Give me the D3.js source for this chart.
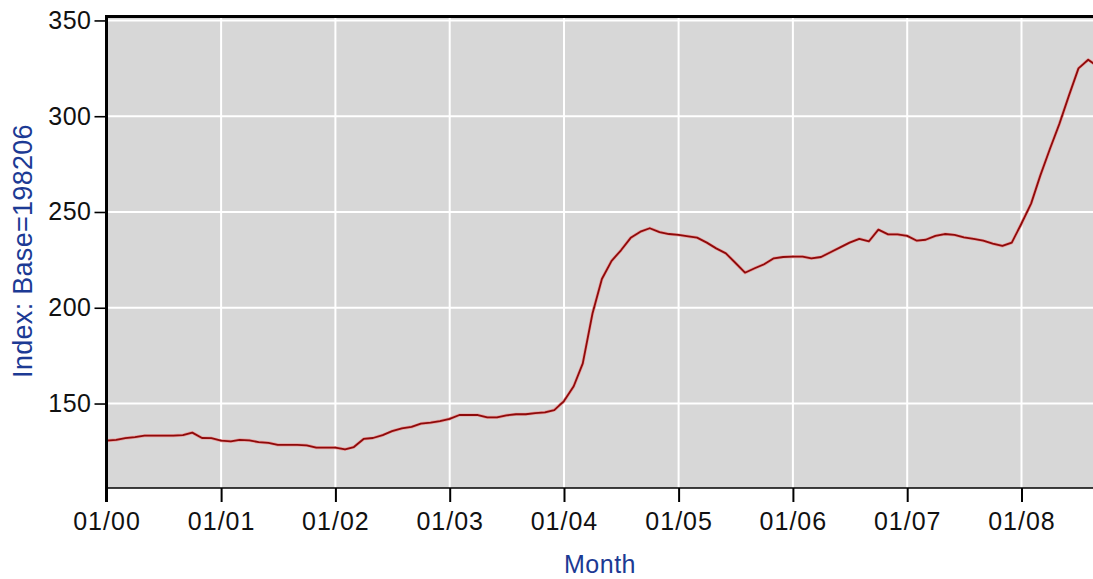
<!DOCTYPE html>
<html>
<head>
<meta charset="utf-8">
<script src="https://cdn.jsdelivr.net/npm/d3@7"></script>
<style>
  html, body { margin: 0; padding: 0; background: #ffffff; }
  svg { display: block; }
  text { font-family: "Liberation Sans", Arial, sans-serif; }
</style>
</head>
<body>
<svg id="chart" width="1093" height="579"></svg>
<script>
// ---- data (monthly, Jan 2000 .. Sep 2008) ----
const startYear = 2000;
const values = [
  // 2000
  130.6, 131.0, 131.9, 132.5, 133.2, 133.2, 133.2, 133.2, 133.5, 134.8, 132.0, 131.9,
  // 2001
  130.6, 130.2, 131.0, 130.8, 129.8, 129.5, 128.4, 128.4, 128.4, 128.2, 127.0, 127.0,
  // 2002
  127.0, 126.1, 127.3, 131.5, 132.0, 133.5, 135.6, 137.0, 137.8, 139.5, 140.0, 140.8,
  // 2003
  142.0, 144.0, 144.0, 144.0, 142.8, 142.8, 143.8, 144.4, 144.4, 145.0, 145.4, 146.6,
  // 2004
  151.3, 159.0, 171.0, 197.0, 215.0, 224.5, 230.0, 236.5, 239.7, 241.5, 239.5, 238.5,
  // 2005
  238.0, 237.3, 236.6, 234.0, 231.0, 228.4, 223.5, 218.3, 220.6, 222.7, 225.8, 226.5,
  // 2006
  226.7, 226.7, 225.8, 226.5, 229.0, 231.5, 234.0, 236.0, 234.7, 240.8, 238.3, 238.3,
  // 2007
  237.5, 235.0, 235.5, 237.5, 238.5, 238.0, 236.8, 236.0, 235.0, 233.5, 232.3, 234.0,
  // 2008
  244.0, 254.5, 269.0, 283.0, 296.0, 311.0, 325.0, 329.5, 326.0
];
const yTicks = [150, 200, 250, 300, 350];
const xTickYears = [2000, 2001, 2002, 2003, 2004, 2005, 2006, 2007, 2008];
const xTickLabels = ["01/00", "01/01", "01/02", "01/03", "01/04", "01/05", "01/06", "01/07", "01/08"];
const yLabel = "Index: Base=198206";
const xLabel = "Month";

const data = values.map((v, i) => ({ date: new Date(startYear, i, 1), value: v }));

// ---- layout ----
const svg = d3.select("#chart");
const W = 1093, H = 579;
const plotLeft = 106.5, plotTop = 17, plotBottom = 488;
const plotRight = 1100;

const x = d3.scaleTime()
  .domain([new Date(2000, 0, 1), new Date(2009, 0, 1)])
  .range([plotLeft, plotLeft + 9 * 114.4]);
const y = d3.scaleLinear()
  .domain([105.9, 351.8])
  .range([plotBottom, plotTop]);

// background
svg.append("rect")
  .attr("x", plotLeft).attr("y", plotTop)
  .attr("width", plotRight - plotLeft).attr("height", plotBottom - plotTop)
  .attr("fill", "#d7d7d7");

// grid
const grid = svg.append("g");
grid.selectAll("line.h").data(yTicks).join("line")
  .attr("x1", plotLeft).attr("x2", plotRight)
  .attr("y1", d => y(d)).attr("y2", d => y(d))
  .attr("stroke", "#ffffff").attr("stroke-width", 2);
grid.selectAll("line.v").data(xTickYears.slice(1)).join("line")
  .attr("x1", d => x(new Date(d, 0, 1))).attr("x2", d => x(new Date(d, 0, 1)))
  .attr("y1", plotTop).attr("y2", plotBottom)
  .attr("stroke", "#ffffff").attr("stroke-width", 2);

// line
const line = d3.line().x(d => x(d.date)).y(d => y(d.value));
svg.append("path").datum(data)
  .attr("d", line)
  .attr("fill", "none")
  .attr("stroke", "#e8a0a0")
  .attr("stroke-width", 3.2)
  .attr("stroke-linejoin", "round");
svg.append("path").datum(data)
  .attr("d", line)
  .attr("fill", "none")
  .attr("stroke", "#8e0a0a")
  .attr("stroke-width", 1.8)
  .attr("stroke-linejoin", "round");

// frame: top border, bottom axis
svg.append("line")
  .attr("x1", plotLeft - 1.5).attr("x2", W)
  .attr("y1", plotTop - 0.5).attr("y2", plotTop - 0.5)
  .attr("stroke", "#000").attr("stroke-width", 3);
svg.append("line")
  .attr("x1", plotLeft).attr("x2", W)
  .attr("y1", plotBottom).attr("y2", plotBottom)
  .attr("stroke", "#000").attr("stroke-width", 1.6);

// y axis
const yAxis = d3.axisLeft(y).tickValues(yTicks).tickSize(11).tickPadding(3).tickFormat(d3.format("d"));
const gy = svg.append("g").attr("transform", `translate(${plotLeft - 1},0)`).call(yAxis);
gy.select(".domain").remove();
gy.selectAll(".tick line").attr("stroke", "#000").attr("stroke-width", 1.6);
gy.selectAll(".tick text").attr("font-size", 25).attr("fill", "#111")
  .attr("letter-spacing", 0.5)
  .attr("font-family", "'Liberation Sans', Arial, sans-serif");
svg.append("line")
  .attr("x1", plotLeft).attr("x2", plotLeft)
  .attr("y1", plotTop - 2).attr("y2", plotBottom + 14)
  .attr("stroke", "#000").attr("stroke-width", 3);

// x axis
const xAxis = d3.axisBottom(x)
  .tickValues(xTickYears.map(yy => new Date(yy, 0, 1)))
  .tickSize(14).tickPadding(10)
  .tickFormat((d, i) => xTickLabels[i]);
const gx = svg.append("g").attr("transform", `translate(0,${plotBottom})`).call(xAxis);
gx.select(".domain").remove();
gx.selectAll(".tick line").attr("stroke", "#000").attr("stroke-width", 2);
gx.selectAll(".tick text").attr("font-size", 25).attr("fill", "#111")
  .attr("letter-spacing", 1)
  .attr("font-family", "'Liberation Sans', Arial, sans-serif");

// axis titles
svg.append("text")
  .attr("x", 600).attr("y", 573)
  .attr("text-anchor", "middle")
  .attr("font-size", 25)
  .attr("letter-spacing", 0.5)
  .attr("fill", "#1c3a94")
  .text(xLabel);
svg.append("text")
  .attr("transform", "translate(32,251) rotate(-90)")
  .attr("text-anchor", "middle")
  .attr("font-size", 27)
  .attr("letter-spacing", 0.3)
  .attr("fill", "#1c3a94")
  .text(yLabel);
</script>
</body>
</html>
